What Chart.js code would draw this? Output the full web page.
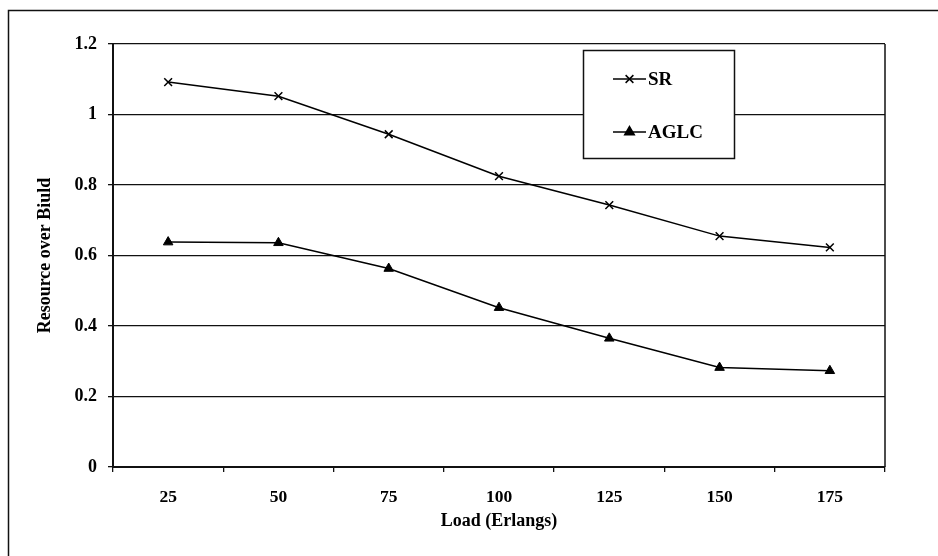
<!DOCTYPE html>
<html>
<head>
<meta charset="utf-8">
<script src="https://cdn.jsdelivr.net/npm/chart.js@4"></script>
<style>
  html, body { margin: 0; padding: 0; background: #fff; }
  #wrap { width: 938px; height: 556px; }
</style>
</head>
<body>
<div id="wrap"><canvas id="loadChart"></canvas></div>
<script>
const loads = ["25", "50", "75", "100", "125", "150", "175"];
const srValues = [1.092, 1.052, 0.944, 0.825, 0.743, 0.655, 0.623];
const aglcValues = [0.638, 0.636, 0.563, 0.452, 0.365, 0.282, 0.273];
const yTicks = [0, 0.2, 0.4, 0.6, 0.8, 1, 1.2];

const serif = "'Liberation Serif', 'Times New Roman', serif";

// outer frame, right edge of the plot, and the boxed legend
const framePlugin = {
  id: "frame",
  beforeDraw(chart) {
    const ctx = chart.ctx;
    ctx.save();
    ctx.fillStyle = "#fff";
    ctx.fillRect(0, 0, chart.width, chart.height);
    ctx.strokeStyle = "#111";
    ctx.lineWidth = 1.5;
    ctx.beginPath();
    ctx.moveTo(8.5, chart.height);
    ctx.lineTo(8.5, 10.5);
    ctx.lineTo(chart.width, 10.5);
    ctx.stroke();
    ctx.restore();
  },
  afterDatasetsDraw(chart) {
    const ctx = chart.ctx;
    const area = chart.chartArea;
    ctx.save();
    ctx.strokeStyle = "#111";
    ctx.lineWidth = 1.5;
    ctx.beginPath();
    ctx.moveTo(area.right, area.top);
    ctx.lineTo(area.right, area.bottom);
    ctx.stroke();

    // legend box
    const bx = 583, by = 50, bw = 151, bh = 108;
    ctx.fillStyle = "#fff";
    ctx.fillRect(bx, by, bw, bh);
    ctx.lineWidth = 1.5;
    ctx.strokeRect(bx + 0.5, by + 0.5, bw, bh);

    const rows = [79, 132];
    ctx.font = "bold 19px " + serif;
    ctx.textBaseline = "middle";
    ctx.textAlign = "left";
    chart.data.datasets.forEach((ds, i) => {
      const y = rows[i];
      ctx.strokeStyle = "#000";
      ctx.lineWidth = 1.5;
      ctx.beginPath();
      ctx.moveTo(613, y);
      ctx.lineTo(646, y);
      ctx.stroke();
      Chart.helpers.drawPoint(ctx, {
        pointStyle: ds.pointStyle,
        radius: ds.pointRadius,
        borderWidth: 1.3
      }, 629.5, y);
      ctx.fillStyle = "#000";
      ctx.fillText(ds.label, 648, y + 1);
    });
    ctx.restore();
  }
};

new Chart(document.getElementById("loadChart"), {
  type: "line",
  data: {
    labels: loads,
    datasets: [
      {
        label: "SR",
        data: srValues,
        borderColor: "#000",
        backgroundColor: "#000",
        borderWidth: 1.5,
        pointStyle: "crossRot",
        pointRadius: 5.5,
        pointBorderWidth: 1.5,
        tension: 0
      },
      {
        label: "AGLC",
        data: aglcValues,
        borderColor: "#000",
        backgroundColor: "#000",
        borderWidth: 1.5,
        pointStyle: "triangle",
        pointRadius: 5.5,
        pointBorderWidth: 1,
        tension: 0
      }
    ]
  },
  options: {
    responsive: true,
    maintainAspectRatio: false,
    animation: false,
    layout: { padding: { left: 0, top: 44, right: 53, bottom: 0 } },
    plugins: {
      legend: { display: false },
      tooltip: { enabled: false }
    },
    scales: {
      x: {
        type: "category",
        offset: true,
        afterFit: (s) => { s.height = 89; },
        grid: {
          display: true,
          offset: true,
          drawOnChartArea: false,
          drawTicks: true,
          tickLength: 5,
          color: "#111",
          lineWidth: 1.3
        },
        border: { display: true, color: "#111", width: 2 },
        ticks: {
          color: "#000",
          padding: 15,
          font: { family: serif, size: 17.5, weight: "bold" },
          maxRotation: 0
        },
        title: {
          display: true,
          text: "Load (Erlangs)",
          color: "#000",
          font: { family: serif, size: 18, weight: "bold" },
          padding: { bottom: 24 }
        }
      },
      y: {
        min: 0,
        max: 1.2,
        afterFit: (s) => { s.width = 113; },
        afterBuildTicks: (s) => { s.ticks = yTicks.map((v) => ({ value: v })); },
        grid: {
          color: "#111",
          lineWidth: 1.3,
          drawTicks: true,
          tickLength: 5
        },
        border: { display: true, color: "#111", width: 2 },
        ticks: {
          color: "#000",
          padding: 11,
          font: { family: serif, size: 18, weight: "bold" },
          callback: (v) => String(v)
        },
        title: {
          display: true,
          text: "Resource over Biuld",
          color: "#000",
          font: { family: serif, size: 18, weight: "bold" },
          padding: { top: 35 }
        }
      }
    }
  },
  plugins: [framePlugin]
});
</script>
</body>
</html>
